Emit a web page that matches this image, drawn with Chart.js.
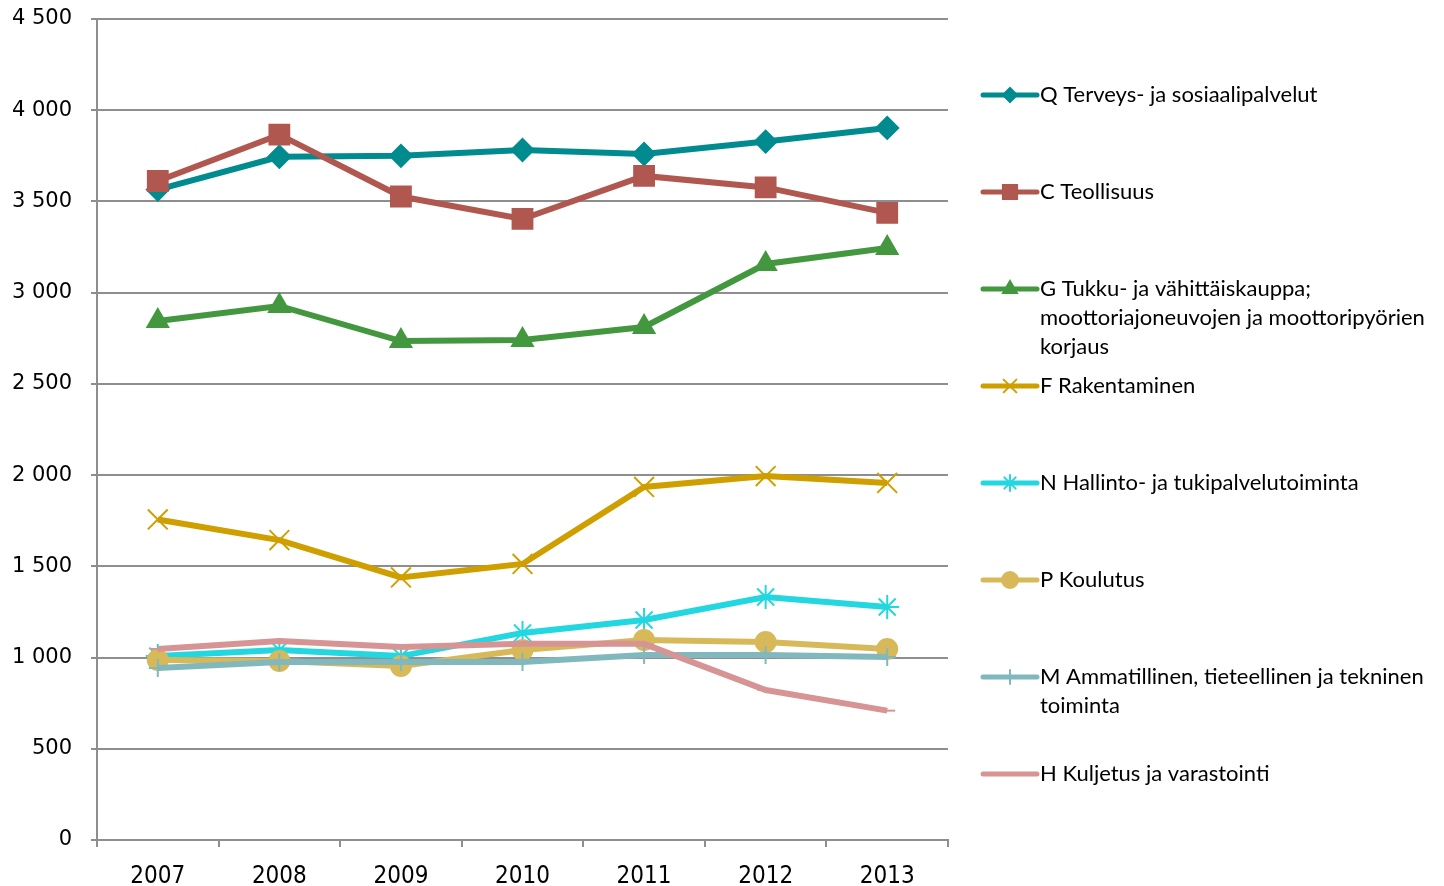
<!DOCTYPE html>
<html>
<head>
<meta charset="utf-8">
<script src="https://cdn.jsdelivr.net/npm/chart.js@4.4.1/dist/chart.umd.min.js"></script>
<style>
  html, body { margin: 0; padding: 0; background: #fff; }
  #wrap { width: 1444px; height: 886px; }
</style>
</head>
<body>
<div id="wrap"><canvas id="toimialaChart" width="1444" height="886"></canvas></div>
<script>
// vuodet ja toimialat
const years = ['2007', '2008', '2009', '2010', '2011', '2012', '2013'];
const seriesNames = [
    'Q Terveys- ja sosiaalipalvelut',
    'C Teollisuus',
    'G Tukku- ja vähittäiskauppa; moottoriajoneuvojen ja moottoripyörien korjaus',
    'F Rakentaminen',
    'N Hallinto- ja tukipalvelutoiminta',
    'P Koulutus',
    'M Ammatillinen, tieteellinen ja tekninen toiminta',
    'H Kuljetus ja varastointi'
];

// values
const qTerveys   = [3565, 3745, 3750, 3782, 3760, 3828, 3903];
const cTeollisuus = [3612, 3866, 3527, 3404, 3640, 3577, 3437];
const gKauppa    = [2845, 2927, 2735, 2741, 2812, 3157, 3245];
const fRakent    = [1757, 1644, 1439, 1513, 1935, 1995, 1957];
const nHallinto  = [1008, 1041, 1008, 1135, 1206, 1332, 1277];
const pKoulutus  = [987, 981, 954, 1041, 1096, 1085, 1047];
const mAmmat     = [943, 976, 976, 976, 1014, 1014, 1003];
const hKuljetus  = [1047, 1091, 1058, 1075, 1075, 822, 709];

const seriesValues = [qTerveys, cTeollisuus, gKauppa, fRakent, nHallinto, pKoulutus, mAmmat, hKuljetus];
const colors = ['#008B8F', '#B0574F', '#43983F', '#CF9F00', '#22D7E0', '#D8B95A', '#80B8BD', '#D69594'];
const markers = ['rectRot', 'rect', 'triangle', 'crossRot', 'star', 'circle', 'cross', 'line'];
const markerRadius = [11, 14, 12, 14, 12, 10, 9, 8];
const legendRadius = [7, 10, 8, 9, 8, 8, 7, 0];

const gridColor = '#8e8e8e';

function spaced(v) {
    return String(v).replace(/\B(?=(\d{3})+$)/g, ' ');
}

// custom legend on the right (Excel-style, wraps long names)
const sideLegend = {
    id: 'sideLegend',
    afterDraw(chart) {
        const ctx = chart.ctx;
        const x0 = 983, x1 = 1037, textX = 1040, maxW = 404;
        ctx.save();
        ctx.font = '22px Lato, "Open Sans", sans-serif';
        ctx.textBaseline = 'middle';
        seriesNames.forEach((name, i) => {
            const y = 95 + i * 97;
            ctx.strokeStyle = colors[i];
            ctx.fillStyle = colors[i];
            ctx.lineWidth = 5;
            ctx.lineCap = 'round';
            ctx.beginPath();
            ctx.moveTo(x0, y);
            ctx.lineTo(x1, y);
            ctx.stroke();
            if (legendRadius[i] > 0) {
                ctx.lineWidth = 2;
                Chart.helpers.drawPoint(ctx, {
                    pointStyle: markers[i], radius: legendRadius[i], rotation: 0, borderWidth: 2
                }, (x0 + x1) / 2, y);
            }
            // word wrap
            const words = name.split(' ');
            const lines = [];
            let cur = '';
            words.forEach(w => {
                const test = cur ? cur + ' ' + w : w;
                if (ctx.measureText(test).width > maxW && cur) {
                    lines.push(cur);
                    cur = w;
                } else {
                    cur = test;
                }
            });
            lines.push(cur);
            ctx.fillStyle = '#000';
            lines.forEach((ln, k) => ctx.fillText(ln, textX, y + k * 29));
        });
        ctx.restore();
    }
};

const n = seriesNames.length;
const datasets = seriesNames.map((name, i) => ({
    label: name,
    data: seriesValues[i],
    borderColor: colors[i],
    backgroundColor: colors[i],
    borderWidth: 6,
    pointStyle: markers[i],
    pointRadius: markerRadius[i],
    pointBorderWidth: 2,
    pointBorderColor: colors[i],
    pointBackgroundColor: colors[i],
    tension: 0,
    order: n - i
}));

new Chart(document.getElementById('toimialaChart'), {
    type: 'line',
    data: { labels: years, datasets: datasets },
    plugins: [sideLegend],
    options: {
        responsive: false,
        animation: false,
        layout: { padding: { top: 19, right: 496, left: 0, bottom: 0 } },
        plugins: {
            legend: { display: false },
            tooltip: { enabled: false }
        },
        scales: {
            x: {
                offset: true,
                grid: { offset: true, drawOnChartArea: false, tickLength: 7, color: gridColor, lineWidth: 2 },
                border: { color: gridColor, width: 2 },
                ticks: {
                    color: '#000',
                    padding: 15,
                    font: { family: '"Liberation Sans Narrow", "DejaVu Sans Condensed", sans-serif', size: 24 }
                },
                afterFit(scale) { scale.height = 46; }
            },
            y: {
                min: 0,
                max: 4500,
                ticks: {
                    stepSize: 500,
                    color: '#000',
                    padding: 19,
                    font: { family: '"DejaVu Sans", sans-serif', size: 21 },
                    callback: v => spaced(v)
                },
                grid: { color: gridColor, lineWidth: 2, tickLength: 6 },
                border: { color: gridColor, width: 2 },
                afterFit(scale) {
                    scale.width = 97;
                    scale.paddingTop = 0;
                    scale.paddingBottom = 0;
                }
            }
        }
    }
});
</script>
</body>
</html>
